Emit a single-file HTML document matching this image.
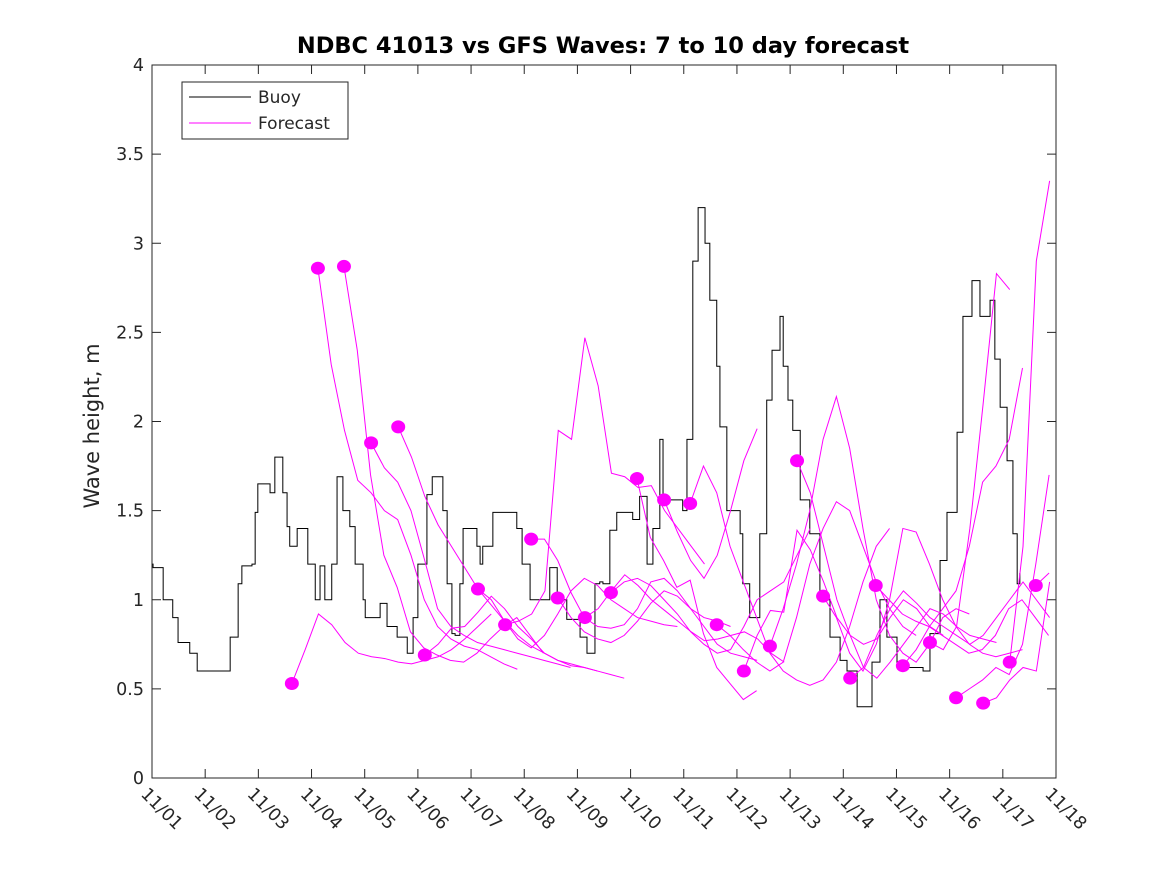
<!DOCTYPE html>
<html><head><meta charset="utf-8"><style>
body{margin:0;background:#fff;}
svg text{font-family:"DejaVu Sans","Liberation Sans",sans-serif;fill:#262626;}
</style></head><body>
<svg id="chart" width="1167" height="875" viewBox="0 0 1167 875" xmlns="http://www.w3.org/2000/svg">
<rect width="1167" height="875" fill="#fff"/>
<text x="603" y="53" text-anchor="middle" font-size="22.5" font-weight="bold" style="fill:#000">NDBC 41013 vs GFS Waves: 7 to 10 day forecast</text>
<text transform="translate(99,426) rotate(-90)" text-anchor="middle" font-size="21">Wave height, m</text>
<g id="plot"></g>
<rect x="152" y="65" width="904" height="713" fill="none" stroke="#262626" stroke-width="1"/>
<g>
<rect x="182" y="82" width="166" height="57" fill="#fff" stroke="#262626" stroke-width="1"/>
<line x1="189" y1="97" x2="251" y2="97" stroke="#000" stroke-width="1"/>
<text x="258" y="103" font-size="17">Buoy</text>
<line x1="189" y1="123" x2="251" y2="123" stroke="#f0f" stroke-width="1"/>
<text x="258" y="129" font-size="17">Forecast</text>
</g>
</svg>
<script>
const yTicks=[0,0.5,1,1.5,2,2.5,3,3.5,4];
const yTickLabels=["0","0.5","1","1.5","2","2.5","3","3.5","4"];
const xTickLabels=["11/01","11/02","11/03","11/04","11/05","11/06","11/07","11/08","11/09","11/10","11/11","11/12","11/13","11/14","11/15","11/16","11/17","11/18"];
const buoyDays=[0,0.02,0.21,0.39,0.49,0.71,0.85,1.32,1.47,1.62,1.69,1.88,1.94,1.99,2.22,2.31,2.46,2.54,2.59,2.73,2.88,2.93,3.07,3.16,3.25,3.38,3.48,3.59,3.72,3.82,3.97,4.01,4.29,4.42,4.61,4.80,4.91,5.00,5.17,5.27,5.38,5.47,5.55,5.64,5.70,5.79,5.85,6.11,6.17,6.22,6.41,6.73,6.86,6.96,7.11,7.35,7.48,7.62,7.80,8.05,8.18,8.33,8.42,8.48,8.61,8.74,9.04,9.17,9.31,9.42,9.55,9.61,9.98,10.06,10.17,10.27,10.40,10.49,10.62,10.68,10.81,11.06,11.11,11.24,11.43,11.56,11.66,11.81,11.87,11.96,12.05,12.19,12.37,12.56,12.75,12.94,13.07,13.26,13.46,13.54,13.69,13.82,14.01,14.50,14.63,14.82,14.95,15.14,15.25,15.42,15.57,15.76,15.85,15.95,16.08,16.19,16.27,16.32];
const buoyVals=[1.2,1.18,1.0,0.9,0.76,0.7,0.6,0.6,0.79,1.09,1.19,1.2,1.49,1.65,1.6,1.8,1.6,1.41,1.3,1.4,1.4,1.2,1.0,1.19,1.0,1.2,1.69,1.5,1.41,1.2,1.0,0.9,0.98,0.85,0.79,0.7,0.9,1.2,1.59,1.69,1.69,1.5,1.09,0.81,0.8,1.09,1.4,1.3,1.2,1.3,1.49,1.49,1.4,1.2,1.0,1.0,1.18,1.0,0.89,0.79,0.7,1.09,1.1,1.09,1.39,1.49,1.45,1.58,1.2,1.4,1.9,1.56,1.5,1.9,2.9,3.2,3.0,2.68,2.31,1.97,1.5,1.37,1.09,0.9,1.37,2.12,2.4,2.59,2.31,2.12,1.95,1.56,1.37,1.0,0.79,0.66,0.6,0.4,0.4,0.65,1.0,0.79,0.62,0.6,0.81,1.22,1.49,1.94,2.59,2.79,2.59,2.68,2.35,2.08,1.78,1.37,1.09,1.15];
const fcStart=[2.63,3.12,3.61,4.12,4.63,5.13,6.13,6.64,7.13,7.63,8.14,8.63,9.12,9.63,10.12,10.62,11.13,11.62,12.13,12.62,13.13,13.61,14.12,14.63,15.12,15.63,16.13,16.62];
const fcVals=[
[0.53,0.72,0.92,0.86,0.76,0.70,0.68,0.67,0.65,0.64,0.66,0.68,0.72,0.78,0.85,0.92],
[2.86,2.32,1.95,1.67,1.60,1.50,1.45,1.25,1.0,0.85,0.78,0.74,0.72,0.68,0.64,0.61],
[2.87,2.40,1.70,1.25,1.07,0.82,0.73,0.69,0.66,0.65,0.70,0.78,0.85,0.90,0.80,0.70],
[1.88,1.74,1.66,1.50,1.23,0.95,0.85,0.80,0.76,0.74,0.72,0.70,0.68,0.66,0.64,0.62],
[1.97,1.80,1.58,1.42,1.30,1.18,1.06,0.97,0.88,0.80,0.74,0.70,0.66,0.63,0.62,0.60],
[0.69,0.75,0.84,0.85,0.93,1.02,0.95,0.85,0.78,0.70,0.66,0.64,0.62,0.60,0.58,0.56],
[1.06,1.0,0.88,0.78,0.73,0.80,0.92,1.05,1.12,1.08,1.0,0.95,0.90,0.88,0.86,0.85],
[0.86,0.88,0.92,1.05,1.95,1.90,2.47,2.20,1.71,1.69,1.63,1.64,1.50,1.40,1.30,1.20],
[1.34,1.34,1.22,1.04,0.90,0.85,0.84,0.86,0.95,1.10,1.12,1.05,0.95,0.90,0.88,0.85],
[1.01,0.90,0.82,0.78,0.76,0.80,0.88,0.98,1.05,1.02,0.95,0.85,0.75,0.70,0.68,0.66],
[0.90,0.95,1.05,1.14,1.08,1.0,0.94,0.88,0.82,0.77,0.78,0.80,0.82,0.78,0.70,0.65],
[1.04,1.10,1.12,1.08,1.0,0.92,0.82,0.75,0.70,0.72,0.85,1.0,1.05,1.10,1.25,1.40],
[1.68,1.35,1.22,1.07,1.11,0.81,0.62,0.53,0.44,0.49],
[1.56,1.38,1.22,1.12,1.25,1.50,1.78,1.96],
[1.54,1.75,1.60,1.30,1.10,0.90,0.70,0.60,0.55,0.52,0.55,0.65,0.85,1.10,1.30,1.40],
[0.86,0.80,0.72,0.65,0.60,0.65,0.90,1.20,1.40,1.55,1.50,1.30,1.10,0.95,0.85,0.80],
[0.60,0.80,0.94,0.93,1.39,1.28,1.10,0.90,0.80,0.75,0.78,0.90,1.00,0.95,0.85,0.80],
[0.74,0.95,1.20,1.50,1.90,2.14,1.85,1.40,1.00,0.80,0.70,0.65,0.75,0.90,0.95,0.92],
[1.78,1.60,1.30,1.00,0.80,0.62,0.56,0.65,0.75,0.85,0.95,0.92,0.85,0.80,0.78,0.76],
[1.02,0.90,0.70,0.60,0.75,1.00,1.40,1.38,1.20,1.00,0.85,0.75,0.70,0.68,0.70,0.72],
[0.56,0.62,0.80,0.95,1.05,0.98,0.90,0.85,0.80,0.75,0.80,0.90,1.00,1.10,1.00,0.90],
[1.08,1.00,0.92,0.88,0.85,0.80,0.75,0.70,0.72,0.80,0.95,1.00,0.90,0.80,0.75,0.73],
[0.63,0.72,0.85,0.95,1.05,1.30,1.66,1.75,1.90,2.30],
[0.76,0.72,0.85,1.40,2.10,2.83,2.74],
[0.45,0.50,0.55,0.62,0.58,0.75,1.20,1.70,2.40,2.30,2.10,1.85,1.73],
[0.42,0.45,0.55,0.62,0.60,1.10,1.90,2.47,2.20,2.05],
[0.65,1.3,2.9,3.35,3.23],
[1.08,1.15,1.17]
];
const NS="http://www.w3.org/2000/svg";
const X0=152,X1=1056,Y0=778,Y1=65,DMAX=17,VMAX=4,STEP=0.25;
function xs(d){return X0+(X1-X0)*d/DMAX;}
function ys(v){return Y0-(Y0-Y1)*v/VMAX;}
const plot=document.getElementById('plot');
function mk(tag,attrs){const e=document.createElementNS(NS,tag);for(const k in attrs)e.setAttribute(k,attrs[k]);plot.appendChild(e);return e;}
yTicks.forEach((v,i)=>{
  const t=mk('line',{x1:X0,x2:X0+9,y1:ys(v),y2:ys(v),stroke:'#262626'});
  
  
  const t2=mk('line',{x1:X1-9,x2:X1,y1:ys(v),y2:ys(v),stroke:'#262626'});
  
  
  const l=mk('text',{x:X0-8,y:ys(v)+6,'text-anchor':'end','font-size':17.5});
  l.textContent=yTickLabels[i];
  
  
});
xTickLabels.forEach((s,i)=>{
  const x=xs(i);
  const t=mk('line',{x1:x,x2:x,y1:Y0,y2:Y0-9,stroke:'#262626'});
  
  
  const t2=mk('line',{x1:x,x2:x,y1:Y1,y2:Y1+9,stroke:'#262626'});
  
  
  const l=mk('text',{transform:`translate(${x-12},${Y0+17}) rotate(45)`,'font-size':17.5});
  l.textContent=s;
  
  
});
let bp=`M${xs(buoyDays[0])},${ys(buoyVals[0])}`;
for(let i=1;i<buoyDays.length;i++){bp+=` H${xs(buoyDays[i])} V${ys(buoyVals[i])}`;}
const buoy=mk('path',{d:bp,fill:'none',stroke:'#000','stroke-width':1});


fcVals.forEach((vals,k)=>{
  const pts=[];
  vals.forEach((v,j)=>{const d=fcStart[k]+j*STEP;if(d<=DMAX)pts.push(xs(d)+','+ys(v));});
  const pl=mk('polyline',{points:pts.join(' '),fill:'none',stroke:'#f0f','stroke-width':1});
  
  
});
fcVals.forEach((vals,k)=>{
  const c=mk('ellipse',{cx:xs(fcStart[k]),cy:ys(vals[0]),rx:7,ry:6.5,fill:'#f0f'});
  
  
});
</script>
</body></html>
